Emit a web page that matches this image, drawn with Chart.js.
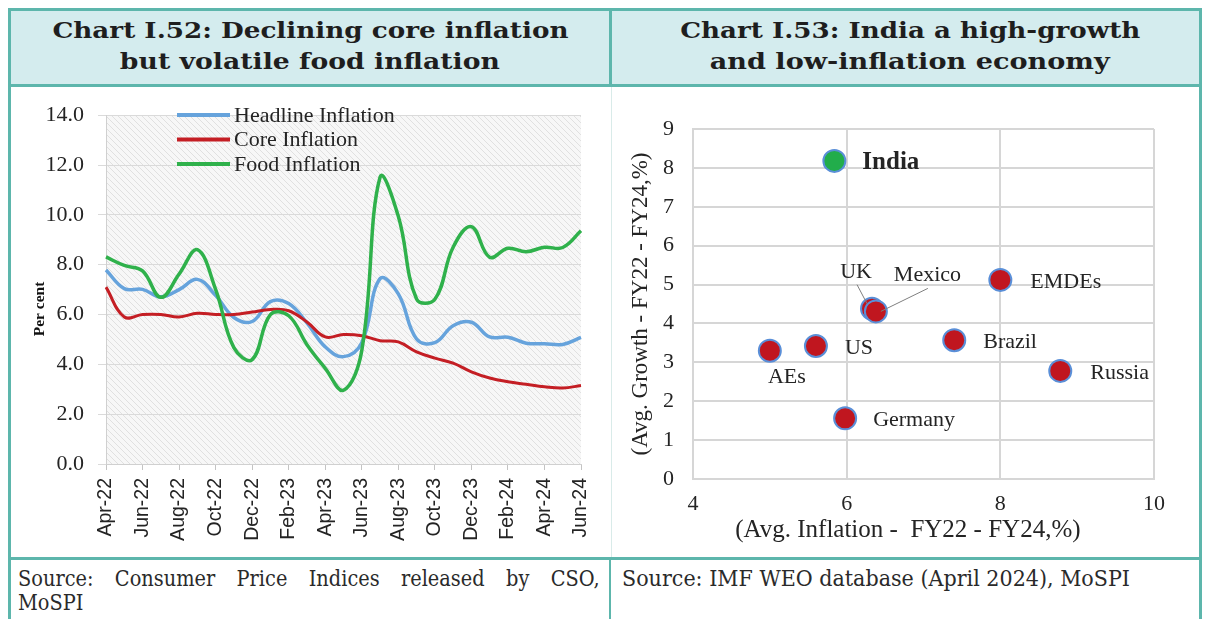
<!DOCTYPE html>
<html>
<head>
<meta charset="utf-8">
<script src="https://cdn.jsdelivr.net/npm/chart.js@4.4.1/dist/chart.umd.min.js"></script>
<style>
html,body{margin:0;padding:0;background:#fff;width:1205px;height:619px;overflow:hidden;position:relative;}
.abs{position:absolute;}
#frame{left:8px;top:8px;width:1194px;height:640px;border:3px solid #5db6ac;box-sizing:border-box;}
#hdrbg{left:11px;top:11px;width:1188px;height:73px;background:#d4ecee;}
.teal{background:#5db6ac;}
.hl{position:absolute;text-align:center;font:bold 23px "DejaVu Serif",serif;line-height:31px;white-space:nowrap;color:#1e1e1e;}
.hl span{display:inline-block;transform-origin:50% 50%;}
.ft{position:absolute;font:22px "DejaVu Serif",serif;line-height:24px;white-space:nowrap;color:#2a2a2a;transform-origin:0 0;}
#ft1{display:flex;justify-content:space-between;}
canvas{position:absolute;}
</style>
</head>
<body>
<div id="hdrbg" class="abs"></div>
<div id="frame" class="abs"></div>
<div class="abs teal" style="left:11px;top:84px;width:1188px;height:3px;"></div>
<div class="abs teal" style="left:609px;top:11px;width:3px;height:74px;"></div>
<div class="abs" style="left:611px;top:87px;width:1px;height:470px;background:#d9ebe9;"></div>
<div class="abs teal" style="left:11px;top:557px;width:1188px;height:3px;"></div>
<div class="abs teal" style="left:609px;top:560px;width:2px;height:70px;"></div>

<div class="hl" data-w="516" style="left:11px;width:598px;top:14px;"><span>Chart I.52: Declining core inflation</span></div>
<div class="hl" data-w="380" style="left:11px;width:598px;top:45px;"><span>but volatile food inflation</span></div>
<div class="hl" data-w="460" style="left:612px;width:596px;top:14px;"><span>Chart I.53: India a high-growth</span></div>
<div class="hl" data-w="400" style="left:612px;width:596px;top:45px;"><span>and low-inflation economy</span></div>

<canvas id="c1" width="596" height="468" style="left:12px;top:88px;"></canvas>
<canvas id="c2" width="586" height="468" style="left:612px;top:88px;"></canvas>

<div id="ft1" class="ft" style="left:18px;top:567px;width:661px;transform:scaleX(0.88);">
<span>Source:</span><span>Consumer</span><span>Price</span><span>Indices</span><span>released</span><span>by</span><span>CSO,</span>
</div>
<div class="ft" style="left:18px;top:591px;transform:scaleX(0.88);">MoSPI</div>
<div class="ft" id="ft3" data-fw="508" style="left:622px;top:567px;">Source: IMF WEO database (April 2024), MoSPI</div>

<script>
// ---------- DATA ----------
const months = ['Apr-22','May-22','Jun-22','Jul-22','Aug-22','Sep-22','Oct-22','Nov-22','Dec-22','Jan-23','Feb-23','Mar-23',
  'Apr-23','May-23','Jun-23','Jul-23','Aug-23','Sep-23','Oct-23','Nov-23','Dec-23','Jan-24','Feb-24','Mar-24',
  'Apr-24','May-24','Jun-24'];
const headline = [7.79,7.04,7.01,6.71,7.00,7.41,6.77,5.88,5.72,6.52,6.44,5.66,4.70,4.31,4.87,7.44,6.83,5.02,4.87,5.55,5.69,5.10,5.09,4.85,4.83,4.80,5.08];
const core     = [7.10,5.90,6.00,6.00,5.90,6.05,6.00,6.00,6.10,6.20,6.15,5.70,5.10,5.20,5.15,4.95,4.90,4.50,4.25,4.05,3.70,3.45,3.30,3.20,3.10,3.05,3.15];
const food     = [8.31,7.97,7.75,6.69,7.62,8.60,7.01,4.67,4.19,6.00,5.95,4.79,3.84,2.96,4.55,11.51,9.94,6.62,6.61,8.70,9.53,8.30,8.66,8.52,8.70,8.69,9.36];
const seriesNames = ['Headline Inflation','Core Inflation','Food Inflation'];
const leftYTicks = [0,2,4,6,8,10,12,14];

const countries    = ['India','EMDEs','UK','Mexico','Brazil','US','AEs','Russia','Germany'];
const avgInflation = [5.84,8.00,6.33,6.38,7.40,5.60,5.00,8.78,5.98];
const avgGrowth    = [8.18,5.12,4.38,4.31,3.57,3.42,3.30,2.78,1.56];
const rightXTicks = [4,6,8,10];
const rightYTicks = [0,1,2,3,4,5,6,7,8,9];

// ---------- STYLE / LAYOUT ----------
const SERIF = '"Liberation Serif", "Times New Roman", serif';
const SANS = '"Liberation Sans", Arial, sans-serif';
const TXT = '#242424';
const lineColors = ['#66a3dc','#c41e24','#2fb14b'];
const lineWidths = [3.5,3,3.5];
const lineOrder = [3,2,1];

// label placement for the scatter chart
const labelLayout = {
  India:  {dx:28, dy:2, align:'left', bold:true},
  EMDEs:  {dx:30, dy:2, align:'left'},
  UK:     {dx:-16, dy:-36, align:'center', lead:[-15,-24,-5,-5]},
  Mexico: {dx:18, dy:-36, align:'left', lead:[52,-23,5,0]},
  Brazil: {dx:29, dy:2, align:'left'},
  US:     {dx:29, dy:2, align:'left'},
  AEs:    {dx:17, dy:27, align:'center'},
  Russia: {dx:30, dy:2, align:'left'},
  Germany:{dx:28, dy:2, align:'left'}
};

// hatched plot background
const hatch = document.createElement('canvas');
hatch.width = 6; hatch.height = 6;
(function(){
  const g = hatch.getContext('2d');
  g.fillStyle = '#f7f7f7'; g.fillRect(0,0,6,6);
  g.strokeStyle = '#e0e0e0'; g.lineWidth = 1;
  for (const k of [-6,0,6]) { g.beginPath(); g.moveTo(k,0); g.lineTo(k+6,6); g.stroke(); }
})();

const plotBg = {
  id:'plotBg',
  beforeDraw(chart){
    const {ctx, chartArea:a} = chart;
    ctx.save();
    ctx.fillStyle = ctx.createPattern(hatch,'repeat');
    ctx.fillRect(a.left, a.top, a.right-a.left, a.bottom-a.top);
    ctx.restore();
  }
};

const lineLegend = {
  id:'lineLegend',
  afterDatasetsDraw(chart){
    const ctx = chart.ctx;
    chart.data.datasets.forEach((ds,i)=>{
      const y = 27 + i*24.5;
      ctx.save();
      ctx.strokeStyle = ds.borderColor; ctx.lineWidth = 4;
      ctx.beginPath(); ctx.moveTo(165,y); ctx.lineTo(218,y); ctx.stroke();
      ctx.fillStyle = TXT; ctx.font = '22px ' + SERIF; ctx.textBaseline = 'middle'; ctx.textAlign='left';
      ctx.fillText(ds.label, 222, y+1);
      ctx.restore();
    });
  }
};

const pointLabels = {
  id:'pointLabels',
  afterDatasetsDraw(chart){
    const ctx = chart.ctx;
    const meta = chart.getDatasetMeta(0);
    meta.data.forEach((pt,i)=>{
      const name = countries[i];
      const L = labelLayout[name];
      ctx.save();
      if (L.lead) {
        ctx.strokeStyle = '#7f7f7f'; ctx.lineWidth = 1;
        ctx.beginPath(); ctx.moveTo(pt.x+L.lead[0], pt.y+L.lead[1]); ctx.lineTo(pt.x+L.lead[2], pt.y+L.lead[3]); ctx.stroke();
      }
      ctx.fillStyle = TXT;
      ctx.font = (L.bold ? 'bold 25px ' : '22px ') + SERIF;
      ctx.textAlign = L.align; ctx.textBaseline = 'middle';
      ctx.fillText(name, pt.x+L.dx, pt.y+L.dy);
      ctx.restore();
    });
  }
};

Chart.defaults.font.family = SERIF;
Chart.defaults.color = TXT;

new Chart(document.getElementById('c1'), {
  type:'line',
  data:{
    labels: months,
    datasets:[headline, core, food].map((d,i)=>({
      label: seriesNames[i], data: d, borderColor: lineColors[i], backgroundColor: lineColors[i],
      borderWidth: lineWidths[i], order: lineOrder[i], tension:0.4, pointRadius:0, fill:false
    }))
  },
  options:{
    responsive:false, animation:false, events:[],
    layout:{padding:{top:21,right:27,left:0,bottom:0}},
    plugins:{legend:{display:false}, tooltip:{enabled:false}},
    scales:{
      x:{
        grid:{drawOnChartArea:false, drawTicks:true, tickLength:6, color:'#c4c4c4'},
        border:{color:'#d0d0d0'},
        ticks:{autoSkip:false, maxRotation:90, minRotation:90, padding:8, color:TXT,
          font:{family:SANS, size:19.5}, callback:(v,i)=> i%2===0 ? months[i] : null},
        afterFit:s=>{s.height=92; s.paddingLeft=0; s.paddingRight=0;}
      },
      y:{
        min:leftYTicks[0], max:leftYTicks[leftYTicks.length-1],
        afterBuildTicks:s=>{s.ticks = leftYTicks.map(v=>({value:v}));},
        ticks:{padding:14, color:TXT, font:{family:SERIF,size:22}, callback:v=>Number(v).toFixed(1)},
        grid:{color:'#dadada', tickLength:8},
        border:{color:'#d0d0d0'},
        title:{display:true, text:'Per cent          ', color:'#111', font:{family:SERIF,size:15.5,weight:'bold'}, padding:{top:19,bottom:0}},
        afterFit:s=>{s.width=94;}
      }
    }
  },
  plugins:[plotBg, lineLegend]
});

new Chart(document.getElementById('c2'), {
  type:'scatter',
  data:{
    datasets:[{
      label:'Countries',
      data: countries.map((c,i)=>({x:avgInflation[i], y:avgGrowth[i]})),
      backgroundColor: countries.map(c=> c==='India' ? '#22ad4b' : '#c0161f'),
      borderColor:'#5a8fd8', borderWidth:2, pointRadius:11, pointHoverRadius:11
    }]
  },
  options:{
    responsive:false, animation:false, events:[],
    layout:{padding:{top:41,right:44,left:0,bottom:0}},
    plugins:{legend:{display:false}, tooltip:{enabled:false}},
    scales:{
      x:{
        type:'linear', min:rightXTicks[0], max:rightXTicks[rightXTicks.length-1],
        afterBuildTicks:s=>{s.ticks = rightXTicks.map(v=>({value:v}));},
        grid:{color:'#d6d6d6', lineWidth:2, drawTicks:false},
        border:{color:'#d6d6d6', width:2},
        ticks:{padding:12, color:TXT, font:{family:SERIF,size:22}},
        title:{display:true, text:'(Avg. Inflation -  FY22 - FY24,%)     ', color:TXT, font:{family:SERIF,size:25}, padding:{top:0,bottom:11}},
        afterFit:s=>{s.height=77;}
      },
      y:{
        min:rightYTicks[0], max:rightYTicks[rightYTicks.length-1],
        afterBuildTicks:s=>{s.ticks = rightYTicks.map(v=>({value:v}));},
        grid:{color:'#d6d6d6', lineWidth:2, drawTicks:false},
        border:{color:'#d6d6d6', width:2},
        ticks:{padding:19, color:TXT, font:{family:SERIF,size:22}},
        title:{display:true, text:'(Avg. Growth - FY22 - FY24,%)', color:TXT, font:{family:SERIF,size:23}, padding:{top:15,bottom:0}},
        afterFit:s=>{s.width=81;}
      }
    }
  },
  plugins:[pointLabels]
});

// fit header / footer text widths to the reference
document.querySelectorAll('[data-w]').forEach(el=>{
  const sp = el.firstElementChild;
  const w = sp.getBoundingClientRect().width;
  sp.style.transform = 'scaleX(' + (Number(el.dataset.w)/w) + ')';
});
document.querySelectorAll('[data-fw]').forEach(el=>{
  const w = el.getBoundingClientRect().width;
  el.style.transform = 'scaleX(' + (Number(el.dataset.fw)/w) + ')';
});
</script>
</body>
</html>
